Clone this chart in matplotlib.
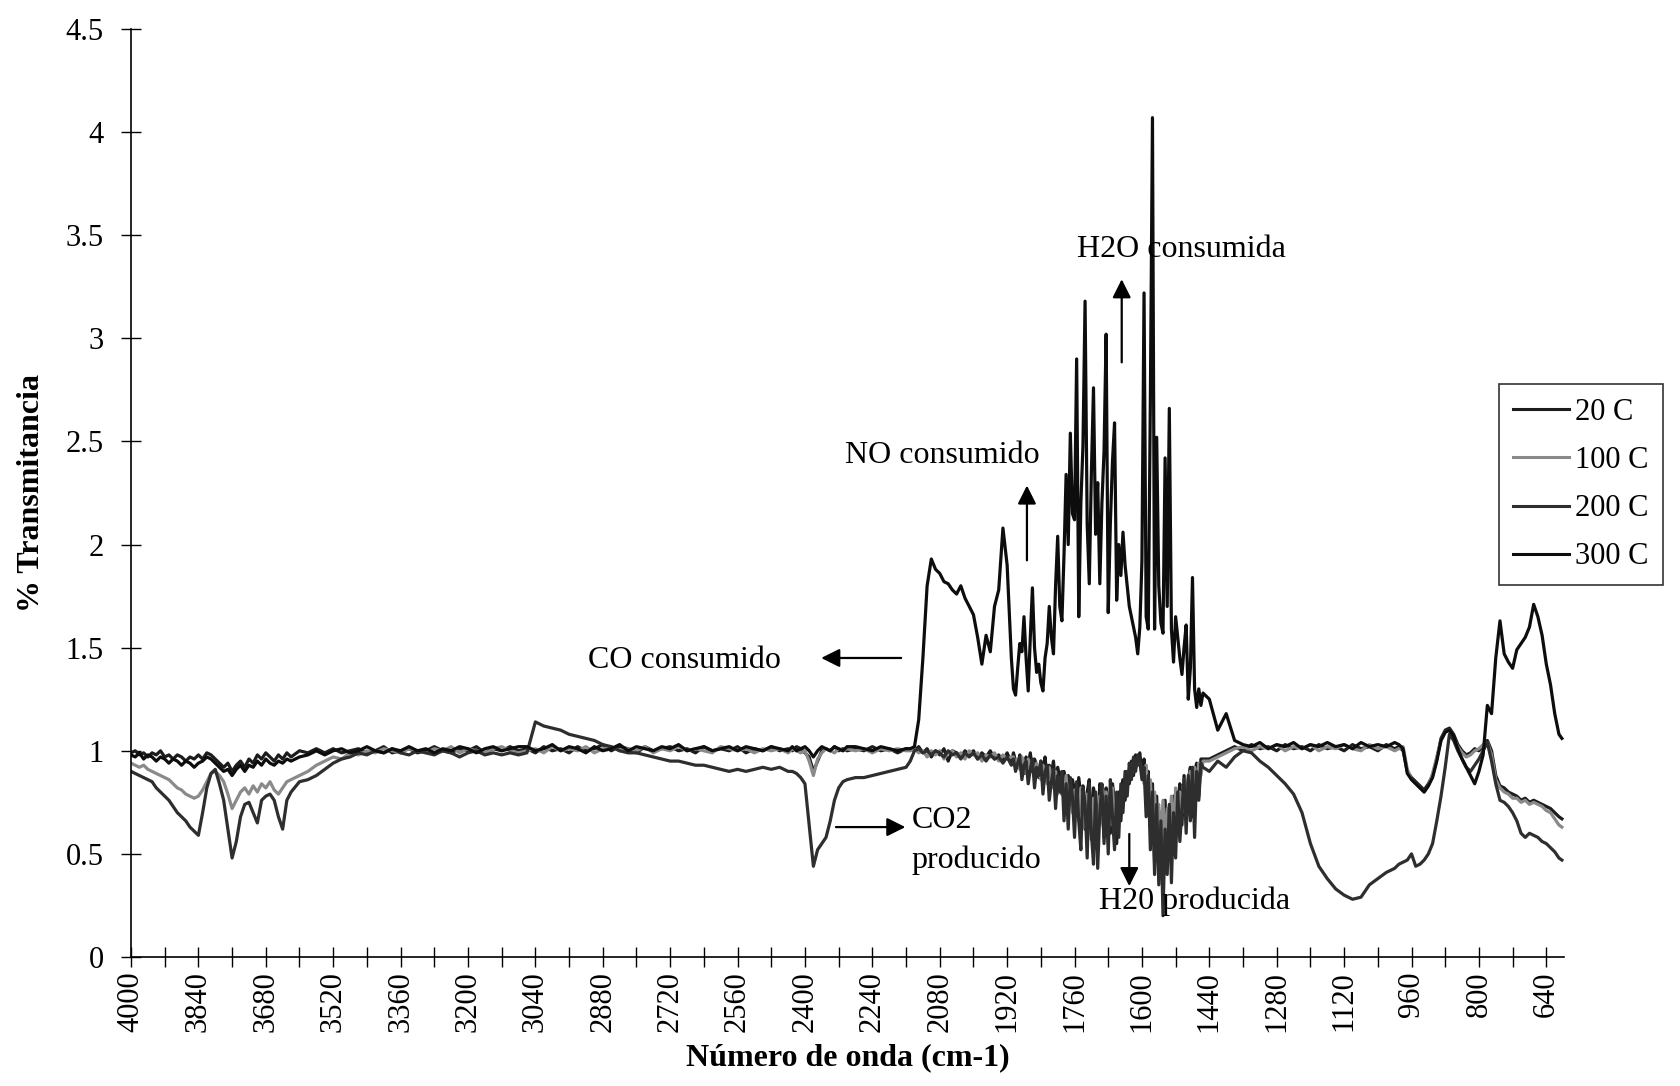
import numpy as np
import matplotlib
matplotlib.use("Agg")
from matplotlib import pyplot as plt

plt.rcParams['font.family'] = ['Liberation Serif', 'DejaVu Serif']

# wavenumber sampling (start, stop, step) in cm-1
wn_segments = [(4000, 3620, 10), (3600, 3080, 20), (3060, 2440, 20),
               (2430, 2300, 10), (2280, 2160, 20), (2150, 1910, 10),
               (1905, 1455, 5), (1440, 1000, 20), (990, 610, 10), (603, 603, 1)]
wavenumber = np.concatenate([np.arange(a, b - 0.5 * s, -s) for a, b, s in wn_segments])

labels = ['20 C', '100 C', '200 C', '300 C']

t_20 = [
    # 4000-3620
    0.99, 1.00, 0.98, 0.99, 0.97, 0.99, 0.98, 1.00, 0.97, 0.98,
    0.96, 0.98, 0.97, 0.95, 0.97, 0.96, 0.98, 0.96, 0.99, 0.98,
    0.96, 0.94, 0.92, 0.94, 0.90, 0.93, 0.95, 0.92, 0.96, 0.94,
    0.98, 0.96, 0.99, 0.97, 0.95, 0.98, 0.96, 0.99, 0.97,
    # 3600-3080
    1.00, 0.99, 1.01, 0.99, 1.01, 0.99, 1.00, 1.01, 0.99, 1.00,
    1.02, 0.99, 1.00, 1.01, 0.99, 1.00, 1.02, 1.00, 0.99, 1.01,
    1.00, 1.02, 0.99, 1.01, 1.00, 1.02, 1.00,
    # 3060-2440
    1.01, 0.99, 1.02, 1.00, 1.01, 0.99, 1.02, 1.00, 1.01, 1.03,
    1.00, 1.02, 1.01, 0.99, 1.02, 1.00, 1.01, 1.02, 1.00, 1.01,
    0.99, 1.02, 1.00, 1.01, 1.00, 1.02, 0.99, 1.01, 1.00, 1.02,
    1.00, 1.01,
    # 2430-2300
    1.00, 1.02, 1.01, 0.99, 0.97, 0.90, 0.95, 1.00, 1.01, 1.00,
    1.02, 1.00, 1.01, 1.00,
    # 2280-2160
    1.01, 1.00, 1.02, 1.00, 1.01, 0.99, 1.01,
    # 2150-1910
    1.01, 1.00, 1.02, 0.99, 1.01, 0.97, 1.00, 0.98, 1.01, 0.95,
    1.00, 0.99, 0.97, 1.00, 0.98, 1.00, 0.96, 0.99, 0.97, 1.00,
    0.96, 0.98, 0.95, 0.99, 0.94,
    # 1905-1455
    0.99, 0.95, 0.92, 0.98, 0.96, 0.89, 0.97, 0.93, 0.99, 0.90,
    0.96, 0.93, 0.87, 0.95, 0.91, 0.97, 0.85, 0.93, 0.89, 0.95,
    0.83, 0.92, 0.87, 0.79, 0.90, 0.84, 0.88, 0.74, 0.86, 0.81,
    0.70, 0.87, 0.78, 0.83, 0.62, 0.80, 0.86, 0.57, 0.82, 0.74,
    0.62, 0.84, 0.78, 0.58, 0.82, 0.74, 0.60, 0.84, 0.76, 0.55,
    0.80, 0.66, 0.86, 0.76, 0.90, 0.84, 0.95, 0.88, 0.98, 0.93,
    0.99, 0.88, 0.96, 0.76, 0.90, 0.62, 0.84, 0.46, 0.78, 0.43,
    0.70, 0.50, 0.76, 0.44, 0.68, 0.54, 0.78, 0.60, 0.74, 0.84,
    0.64, 0.88, 0.70, 0.86, 0.92, 0.68, 0.90, 0.94, 0.78, 0.96,
    0.96,
    # 1440-1000
    0.96, 0.98, 1.00, 1.02, 1.00, 1.03, 1.01, 1.02, 1.00, 1.03,
    1.01, 1.02, 1.00, 1.03, 1.01, 1.02, 1.00, 1.03, 1.01, 1.02,
    1.00, 1.03, 1.01,
    # 990-610
    1.02, 1.00, 0.90, 0.87, 0.85, 0.83, 0.81, 0.84, 0.88, 0.96,
    1.06, 1.10, 1.11, 1.08, 1.03, 1.00, 0.98, 0.99, 1.01, 1.00,
    1.02, 1.05, 1.00, 0.88, 0.83, 0.82, 0.80, 0.79, 0.78, 0.76,
    0.77, 0.75, 0.76, 0.75, 0.74, 0.73, 0.72, 0.70, 0.68,
    0.67,
]

t_100 = [
    0.94, 0.93, 0.92, 0.93, 0.91, 0.90, 0.89, 0.88, 0.87, 0.86,
    0.84, 0.82, 0.81, 0.79, 0.78, 0.77, 0.78, 0.81, 0.85, 0.89,
    0.90, 0.88, 0.85, 0.79, 0.72, 0.76, 0.80, 0.82, 0.79, 0.83,
    0.80, 0.84, 0.82, 0.85, 0.81, 0.79, 0.82, 0.85, 0.86,
    0.88, 0.90, 0.93, 0.95, 0.97, 0.96, 0.99, 0.98, 1.00, 0.99,
    1.01, 1.00, 0.99, 1.01, 1.00, 0.99, 1.01, 1.00, 1.02, 0.99,
    1.01, 1.00, 0.99, 1.01, 1.02, 1.00, 0.99,
    1.00, 1.01, 0.99, 1.02, 1.00, 1.01, 1.00, 1.02, 0.99, 1.01,
    1.02, 1.00, 1.01, 1.00, 1.02, 0.99, 1.01, 1.00, 1.02, 1.00,
    1.01, 1.00, 0.99, 1.02, 1.01, 1.00, 1.01, 0.99, 1.01, 1.00,
    1.01, 0.99,
    1.01, 1.00, 0.99, 1.00, 0.95, 0.88, 0.96, 0.99, 1.01, 1.00,
    0.99, 1.01, 1.00, 1.01,
    1.00, 1.01, 0.99, 1.01, 1.00, 1.01, 1.00,
    1.00, 1.01, 0.99, 1.00, 0.97, 1.00, 0.98, 1.00, 0.96, 0.99,
    1.00, 0.97, 0.99, 0.96, 1.00, 0.98, 0.99, 0.95, 0.98, 0.97,
    0.99, 0.95, 0.98, 0.96, 0.97,
    0.97, 0.93, 0.96, 0.91, 0.97, 0.94, 0.89, 0.96, 0.92, 0.95,
    0.88, 0.94, 0.90, 0.86, 0.93, 0.89, 0.84, 0.92, 0.87, 0.82,
    0.90, 0.79, 0.86, 0.83, 0.76, 0.88, 0.74, 0.84, 0.70, 0.81,
    0.76, 0.66, 0.82, 0.72, 0.63, 0.79, 0.68, 0.58, 0.77, 0.64,
    0.60, 0.78, 0.67, 0.62, 0.80, 0.70, 0.64, 0.82, 0.66, 0.76,
    0.68, 0.80, 0.76, 0.87, 0.83, 0.91, 0.88, 0.95, 0.92, 0.97,
    0.94, 0.90, 0.84, 0.93, 0.74, 0.86, 0.64, 0.80, 0.58, 0.74,
    0.56, 0.76, 0.54, 0.72, 0.60, 0.78, 0.58, 0.82, 0.66, 0.80,
    0.70, 0.86, 0.74, 0.84, 0.90, 0.78, 0.92, 0.82, 0.94, 0.88,
    0.95,
    0.95, 0.97, 0.99, 1.01, 1.02, 1.00, 1.02, 1.01, 1.03, 1.00,
    1.02, 1.01, 1.03, 1.00, 1.02, 1.01, 1.03, 1.01, 1.00, 1.03,
    1.01, 1.02, 1.00,
    1.01, 1.02, 0.91, 0.86, 0.84, 0.82, 0.80, 0.83, 0.89, 0.97,
    1.05, 1.09, 1.10, 1.06, 1.02, 0.99, 0.97, 0.98, 1.00, 1.01,
    1.03, 1.04, 0.98, 0.86, 0.82, 0.80, 0.79, 0.77, 0.77, 0.75,
    0.76, 0.74, 0.75, 0.74, 0.73, 0.71, 0.70, 0.67, 0.64,
    0.63,
]

t_200 = [
    0.90, 0.89, 0.88, 0.87, 0.86, 0.85, 0.82, 0.80, 0.78, 0.76,
    0.73, 0.70, 0.68, 0.66, 0.63, 0.61, 0.59, 0.70, 0.82, 0.89,
    0.91, 0.84, 0.76, 0.62, 0.48, 0.56, 0.68, 0.74, 0.75, 0.70,
    0.65, 0.76, 0.78, 0.79, 0.76, 0.68, 0.62, 0.76, 0.80,
    0.85, 0.86, 0.88, 0.91, 0.94, 0.96, 0.97, 0.99, 0.98, 1.00,
    0.99, 1.01, 0.99, 0.98, 1.00, 0.99, 0.98, 1.00, 0.99, 0.97,
    0.99, 1.00, 0.98, 0.99, 0.98, 0.99, 0.98,
    0.99, 1.14, 1.12, 1.11, 1.10, 1.08, 1.07, 1.06, 1.05, 1.03,
    1.02, 1.00, 0.99, 0.99, 0.98, 0.97, 0.96, 0.95, 0.95, 0.94,
    0.93, 0.93, 0.92, 0.91, 0.90, 0.91, 0.90, 0.91, 0.92, 0.91,
    0.92, 0.90,
    0.90, 0.89, 0.87, 0.84, 0.64, 0.44, 0.52, 0.55, 0.58, 0.66,
    0.76, 0.82, 0.85, 0.86,
    0.87, 0.87, 0.88, 0.89, 0.90, 0.91, 0.92,
    0.95, 1.00, 1.01, 0.99, 1.00, 0.98, 1.00, 0.99, 0.97, 1.00,
    0.98, 0.99, 0.96, 0.99, 0.97, 0.99, 0.96, 0.98, 0.95, 0.98,
    0.96, 0.97, 0.94, 0.97, 0.93,
    0.96, 0.90, 0.94, 0.97, 0.86, 0.93, 0.95, 0.84, 0.91, 0.96,
    0.82, 0.92, 0.88, 0.95, 0.79, 0.90, 0.93, 0.76, 0.85, 0.91,
    0.72, 0.88, 0.80, 0.90, 0.66, 0.84, 0.62, 0.87, 0.78, 0.58,
    0.85, 0.66, 0.52, 0.82, 0.74, 0.48, 0.84, 0.60, 0.45, 0.80,
    0.43, 0.70, 0.84, 0.55, 0.78, 0.50, 0.86, 0.68, 0.52, 0.80,
    0.58, 0.84, 0.70, 0.90, 0.78, 0.94, 0.86, 0.97, 0.90, 0.98,
    0.95, 0.86, 0.92, 0.68, 0.88, 0.52, 0.80, 0.40, 0.74, 0.35,
    0.66, 0.20, 0.62, 0.40, 0.74, 0.36, 0.70, 0.48, 0.80, 0.56,
    0.72, 0.86, 0.60, 0.88, 0.66, 0.92, 0.58, 0.90, 0.76, 0.94,
    0.92,
    0.90, 0.95, 0.92, 0.97, 1.00, 0.99, 0.95, 0.92, 0.88, 0.84,
    0.79, 0.70, 0.55, 0.44, 0.38, 0.33, 0.30, 0.28, 0.29, 0.35,
    0.38, 0.41, 0.43,
    0.45, 0.46, 0.47, 0.50, 0.44, 0.45, 0.47, 0.50, 0.55, 0.66,
    0.78, 0.92, 1.08, 1.05, 1.00, 0.96, 0.92, 0.90, 0.93, 0.96,
    1.00, 1.04, 0.95, 0.84, 0.76, 0.75, 0.73, 0.70, 0.66, 0.60,
    0.58, 0.60, 0.59, 0.58, 0.56, 0.55, 0.53, 0.51, 0.48,
    0.47,
]

t_300 = [
    0.98, 0.97, 0.99, 0.96, 0.98, 0.97, 0.95, 0.97, 0.96, 0.94,
    0.96, 0.95, 0.93, 0.95, 0.94, 0.92, 0.94, 0.95, 0.97, 0.96,
    0.94, 0.92, 0.90, 0.91, 0.88, 0.91, 0.93, 0.90, 0.93, 0.92,
    0.95, 0.93, 0.96, 0.94, 0.93, 0.95, 0.94, 0.96, 0.95,
    0.97, 0.98, 1.00, 0.98, 1.00, 1.01, 0.99, 1.00, 1.02, 1.00,
    0.99, 1.01, 1.00, 1.02, 1.00, 1.01, 0.99, 1.01, 1.00, 1.02,
    1.01, 0.99, 1.01, 1.02, 1.00, 1.01, 1.02,
    1.02, 1.00, 1.01, 1.03, 1.00, 1.02, 1.01, 0.99, 1.02, 1.00,
    1.01, 1.03, 1.00, 1.02, 1.01, 1.00, 1.02, 1.01, 1.03, 1.00,
    1.01, 1.02, 1.00, 1.01, 1.02, 1.00, 1.02, 1.01, 1.00, 1.02,
    1.01, 1.00,
    1.02, 1.00, 1.01, 1.02, 1.00, 0.97, 1.00, 1.02, 1.01, 1.00,
    1.02, 1.01, 1.00, 1.02,
    1.02, 1.01, 1.00, 1.02, 1.01, 1.00, 1.01,
    1.01, 1.02, 1.15, 1.45, 1.80, 1.93, 1.88, 1.86, 1.82, 1.81,
    1.78, 1.76, 1.80, 1.74, 1.70, 1.66, 1.55, 1.42, 1.56, 1.48,
    1.70, 1.78, 2.08, 1.90, 1.45,
    1.30, 1.27, 1.40, 1.52, 1.48, 1.65, 1.45, 1.29, 1.55, 1.79,
    1.50, 1.38, 1.42, 1.33, 1.29, 1.45, 1.52, 1.70, 1.55, 1.47,
    1.80, 2.04, 1.70, 1.63, 1.95, 2.34, 2.00, 2.54, 2.15, 2.12,
    2.90, 1.65, 2.20, 2.48, 3.18, 2.10, 1.81, 2.35, 2.76, 2.05,
    2.30, 1.81, 2.20, 2.45, 3.02, 1.67, 2.10, 2.40, 2.59, 1.73,
    2.00, 1.85, 2.06, 1.90, 1.80, 1.70, 1.65, 1.60, 1.55, 1.47,
    1.60, 1.92, 3.22, 1.65, 1.59, 2.70, 4.07, 1.59, 2.52, 1.80,
    1.62, 1.57, 2.42, 1.70, 2.66, 1.59, 1.43, 1.65, 1.55, 1.45,
    1.37, 1.50, 1.61, 1.25, 1.40, 1.84, 1.30, 1.21, 1.30, 1.22,
    1.28,
    1.25, 1.10, 1.18, 1.05, 1.03, 1.02, 1.04, 1.01, 1.03, 1.02,
    1.04, 1.01, 1.03, 1.02, 1.04, 1.02, 1.03, 1.01, 1.04, 1.02,
    1.03, 1.02, 1.04,
    1.03, 1.01, 0.89, 0.86, 0.84, 0.82, 0.80, 0.83, 0.87, 0.95,
    1.05, 1.09, 1.10, 1.07, 1.01, 0.96, 0.92, 0.88, 0.84, 0.90,
    0.98, 1.22, 1.18, 1.45, 1.63, 1.47, 1.43, 1.40, 1.49, 1.52,
    1.55, 1.60, 1.71, 1.65, 1.56, 1.42, 1.32, 1.18, 1.08,
    1.06,
]

series = [t_20, t_100, t_200, t_300]
colors = ['#1c1c1c', '#8a8a8a', '#2e2e2e', '#0d0d0d']

fig = plt.figure(figsize=(16.81, 10.86), dpi=100)
ax = fig.add_axes([131 / 1681, 1 - 957 / 1086, (1564 - 131) / 1681, (957 - 29) / 1086])

lines = []
for vals, lab, col in zip(series, labels, colors):
    ln, = ax.plot(wavenumber, vals, color=col, lw=2.3, label=lab)
    lines.append(ln)

ax.set_xlim(4000, 598)
ax.set_ylim(0, 4.5)

xt = np.arange(4000, 599, -80)
ax.set_xticks(xt)
ax.set_xticklabels([str(v) if (4000 - v) % 160 == 0 else '' for v in xt],
                   rotation=90, fontsize=22)
yt = np.arange(0, 4.51, 0.5)
ax.set_yticks(yt)
ax.set_yticklabels(['%g' % v for v in yt], fontsize=22)
ax.tick_params(axis='both', direction='inout', length=15, width=1, color='black')
ax.tick_params(axis='y', pad=12)
ax.tick_params(axis='x', pad=3)

for s in ['top', 'right']:
    ax.spines[s].set_visible(False)
for s in ['left', 'bottom']:
    ax.spines[s].set_linewidth(1.2)

ax.set_xlabel('Número de onda (cm-1)', fontsize=23, fontweight='bold', labelpad=8)
ax.set_ylabel('% Transmitancia', fontsize=23, fontweight='bold', labelpad=14)

# annotations
txt = dict(fontsize=23, color='black', va='center', ha='left')
arw = dict(arrowstyle='-|>', color='black', lw=1.6, mutation_scale=28)
ax.text(2914, 1.44, 'CO consumido', **txt)
ax.annotate('', xy=(2368, 1.45), xytext=(2165, 1.45), arrowprops=arw)
ax.text(2305, 2.43, 'NO consumido', **txt)
ax.annotate('', xy=(1873, 2.30), xytext=(1873, 1.91), arrowprops=arw)
ax.text(1754, 3.43, 'H2O consumida', **txt)
ax.annotate('', xy=(1648, 3.30), xytext=(1648, 2.87), arrowprops=arw)
ax.text(2147, 0.66, 'CO2', **txt)
ax.text(2147, 0.47, 'producido', **txt)
ax.annotate('', xy=(2155, 0.63), xytext=(2333, 0.63), arrowprops=arw)
ax.text(1703, 0.27, 'H20 producida', **txt)
ax.annotate('', xy=(1630, 0.33), xytext=(1630, 0.61), arrowprops=arw)

leg = fig.legend(handles=lines, labels=labels, loc='upper left',
                 bbox_to_anchor=(1499 / 1681, 1 - 384 / 1086), bbox_transform=fig.transFigure,
                 fontsize=22, frameon=True, fancybox=False, handlelength=1.85,
                 handletextpad=0.2, labelspacing=0.63, borderpad=0.45, borderaxespad=0)
leg.get_frame().set_edgecolor('black')
leg.get_frame().set_linewidth(1.2)
for h in leg.get_lines():
    h.set_linewidth(2.2)

fig.savefig('out.png', dpi=100)
